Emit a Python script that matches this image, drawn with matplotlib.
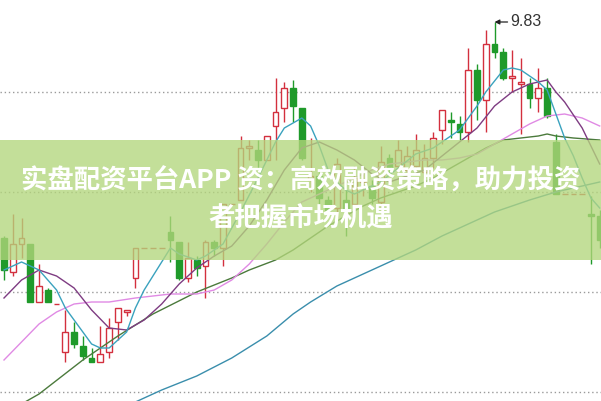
import matplotlib
matplotlib.use('Agg')
import matplotlib.pyplot as plt
from matplotlib.patches import Rectangle

# daily candles
opens = [8.75, 8.58, 8.72, 8.72, 8.43, 8.49, 8.42, 8.18, 8.28, 8.21,
         8.15, 8.13, 8.18, 8.33, 8.38, 8.55, 8.70, 8.70, 8.70, 8.78,
         8.73, 8.55, 8.64, 8.61, 8.73, 8.70, 8.92, 8.94, 9.20, 9.19,
         9.14, 9.31, 9.40, 9.50, 9.40, 9.04, 9.06, 8.94, 8.90, 8.94,
         8.92, 9.03, 9.01, 8.93, 9.15, 9.11, 9.09, 9.11, 9.08, 9.15,
         9.29, 9.34, 9.32, 9.28, 9.59, 9.44, 9.72, 9.68, 9.55, 9.52,
         9.52, 9.45, 9.50, 9.23, 8.97, 8.97, 8.97, 8.87, 8.86]
highs = [8.76, 8.87, 8.85, 8.72, 8.62, 8.50, 8.42, 8.39, 8.33, 8.26,
         8.20, 8.31, 8.35, 8.40, 8.39, 8.70, 8.70, 8.70, 8.70, 8.86,
         8.73, 8.73, 8.66, 8.74, 8.74, 8.92, 8.92, 9.26, 9.24, 9.24,
         9.26, 9.55, 9.53, 9.54, 9.40, 9.25, 9.08, 8.96, 9.15, 8.99,
         9.11, 9.08, 9.04, 9.21, 9.17, 9.24, 9.21, 9.27, 9.22, 9.28,
         9.39, 9.38, 9.36, 9.70, 9.62, 9.79, 9.83, 9.70, 9.69, 9.65,
         9.55, 9.60, 9.55, 9.27, 8.97, 8.97, 8.97, 8.96, 8.89]
lows = [8.54, 8.56, 8.65, 8.43, 8.43, 8.43, 8.42, 8.13, 8.20, 8.14,
        8.13, 8.13, 8.15, 8.24, 8.36, 8.50, 8.70, 8.70, 8.70, 8.63,
        8.54, 8.53, 8.56, 8.45, 8.66, 8.61, 8.92, 8.94, 9.14, 9.10,
        9.14, 9.14, 9.33, 9.33, 9.14, 8.98, 8.92, 8.86, 8.85, 8.76,
        8.85, 8.96, 8.92, 8.89, 9.07, 9.08, 9.06, 9.09, 9.05, 9.10,
        9.22, 9.25, 9.24, 9.23, 9.34, 9.28, 9.65, 9.54, 9.48, 9.27,
        9.40, 9.38, 9.35, 8.97, 8.97, 8.97, 8.97, 8.62, 8.70]
closes = [8.59, 8.72, 8.75, 8.43, 8.51, 8.43, 8.42, 8.28, 8.22, 8.16,
          8.13, 8.17, 8.30, 8.40, 8.39, 8.70, 8.70, 8.70, 8.70, 8.74,
          8.55, 8.65, 8.60, 8.73, 8.70, 8.92, 8.92, 9.20, 9.21, 9.14,
          9.26, 9.38, 9.50, 9.41, 9.15, 9.06, 8.95, 8.89, 9.12, 8.89,
          9.05, 9.04, 8.95, 9.13, 9.10, 9.19, 9.16, 9.19, 9.15, 9.25,
          9.39, 9.33, 9.28, 9.59, 9.44, 9.72, 9.68, 9.55, 9.56, 9.53,
          9.45, 9.50, 9.36, 8.97, 8.97, 8.97, 8.97, 8.86, 8.74]

# moving average lines, read at some candle positions
ma5_idx = [0, 2, 4, 6, 7, 9, 10, 11, 12, 14, 15, 16, 18, 19, 20, 22, 23, 25, 27, 29,
           31, 32, 34, 35, 36, 37, 38, 39, 40, 41, 43, 45, 47, 49, 51, 52, 54, 55, 57, 58,
           59, 60, 61, 62, 63, 64, 65, 66, 67, 68]
ma5 = [8.59, 8.63, 8.59, 8.49, 8.40, 8.28, 8.22, 8.20, 8.20, 8.28, 8.40, 8.49, 8.63, 8.70,
       8.67, 8.64, 8.66, 8.72, 8.88, 9.05, 9.23, 9.30, 9.35, 9.31, 9.21, 9.09, 9.03, 8.99,
       8.97, 8.99, 9.03, 9.10, 9.17, 9.20, 9.26, 9.29, 9.41, 9.48, 9.59, 9.60, 9.59, 9.56,
       9.53, 9.49, 9.37, 9.25, 9.16, 9.05, 8.95, 8.90]

ma10_idx = [0, 2, 4, 6, 8, 10, 12, 14, 16, 18, 20, 22, 24, 26, 28, 30, 32, 34, 36, 38,
            40, 42, 44, 46, 48, 50, 52, 54, 56, 58, 60, 62, 63, 64, 66, 68]
ma10 = [8.45, 8.54, 8.59, 8.56, 8.50, 8.39, 8.30, 8.29, 8.34, 8.42, 8.52, 8.60, 8.66,
        8.71, 8.81, 8.94, 9.09, 9.20, 9.23, 9.19, 9.14, 9.07, 9.03, 9.06, 9.09, 9.16,
        9.23, 9.30, 9.41, 9.48, 9.52, 9.54, 9.48, 9.43, 9.30, 9.12]

ma20_idx = [0, 2, 4, 6, 8, 10, 12, 15, 19, 22, 24, 26, 28, 30, 32, 34, 36, 38, 40, 42,
            44, 46, 48, 50, 52, 54, 56, 58, 60, 62, 64, 66, 68]
ma20 = [8.14, 8.23, 8.32, 8.38, 8.42, 8.43, 8.43, 8.45, 8.47, 8.47, 8.49, 8.54, 8.62,
        8.72, 8.83, 8.93, 8.97, 9.01, 9.05, 9.09, 9.12, 9.13, 9.14, 9.14, 9.15, 9.17,
        9.22, 9.27, 9.32, 9.36, 9.37, 9.35, 9.31]

ma30_idx = [0, 4, 9, 13, 17, 22, 26, 28, 31, 33, 35, 37, 39, 41, 43, 45, 47, 49, 51, 53,
            55, 57, 59, 61, 62, 63, 65, 68]
ma30 = [7.87, 7.97, 8.14, 8.26, 8.37, 8.48, 8.55, 8.59, 8.64, 8.69, 8.75, 8.81, 8.86,
        8.91, 8.95, 8.98, 9.01, 9.05, 9.10, 9.15, 9.20, 9.24, 9.25, 9.26, 9.27, 9.26,
        9.25, 9.24]

ma60_idx = [13, 15, 18, 22, 26, 30, 33, 35, 38, 41, 44, 47, 50, 52, 54, 56, 60, 63, 66, 68]
ma60 = [7.89, 7.93, 7.99, 8.06, 8.15, 8.26, 8.37, 8.43, 8.51, 8.57, 8.63, 8.69, 8.76,
        8.80, 8.84, 8.88, 8.94, 8.98, 9.01, 9.03]

grid_levels = [9.48, 8.98, 8.48, 7.98]
peak_idx = 56
peak_label = '9.83'
title_1 = '实盘配资平台APP 资：高效融资策略，助力投资'
title_2 = '者把握市场机遇'

RED = '#d3303e'
GREEN = '#1f9a2a'

fig = plt.figure(figsize=(6.01, 4.01), dpi=100)
ax = fig.add_axes([0, 0, 1, 1])
ax.set_axis_off()
ax.set_xlim(-0.457, 68.15)
ax.set_ylim(7.935, 9.94)

for g in grid_levels:
    ax.axhline(g, color='#9a9a9a', lw=1, ls=(0, (1, 2)), zorder=1)

w = 0.66
for i, (o, h, l, c) in enumerate(zip(opens, highs, lows, closes)):
    if c < o:
        ax.vlines(i, l, h, color=GREEN, lw=1, zorder=3)
        ax.add_patch(Rectangle((i - w / 2, c), w, o - c, facecolor=GREEN,
                               edgecolor=GREEN, lw=1, zorder=3))
    else:
        ax.vlines(i, c, h, color=RED, lw=1, zorder=3)
        ax.vlines(i, l, o, color=RED, lw=1, zorder=3)
        ax.add_patch(Rectangle((i - w / 2, o), w, c - o, facecolor='white',
                               edgecolor=RED, lw=1, zorder=3))

ax.plot(ma60_idx, ma60, color='#3a8eac', lw=1, zorder=4)
ax.plot(ma30_idx, ma30, color='#4b7a3c', lw=1, zorder=4)
ax.plot(ma20_idx, ma20, color='#e08ae4', lw=1, zorder=4)
ax.plot(ma10_idx, ma10, color='#7e3c82', lw=1, zorder=4)
ax.plot(ma5_idx, ma5, color='#3aa2be', lw=1, zorder=4)

ax.annotate(peak_label, xy=(peak_idx, highs[peak_idx]), xytext=(peak_idx + 1.8, highs[peak_idx]),
            fontsize=11.5, family='Liberation Sans', color='#333333', va='center', ha='left',
            arrowprops=dict(arrowstyle='-|>', color='#222222', lw=0.9, mutation_scale=7,
                            shrinkA=0, shrinkB=0), zorder=7)

# green banner over the chart
ax.axhspan(8.64, 9.24, color='#b3d67c', alpha=0.78, lw=0, zorder=5)
fam = ['Noto Sans CJK SC', 'DejaVu Sans']
ax.text(0.5, 0.549, title_1, transform=ax.transAxes, ha='center', va='center',
        fontsize=19, weight='bold', color='white', family=fam, zorder=6)
ax.text(0.5, 0.454, title_2, transform=ax.transAxes, ha='center', va='center',
        fontsize=19, weight='bold', color='white', family=fam, zorder=6)

fig.savefig('out.png', dpi=100)
